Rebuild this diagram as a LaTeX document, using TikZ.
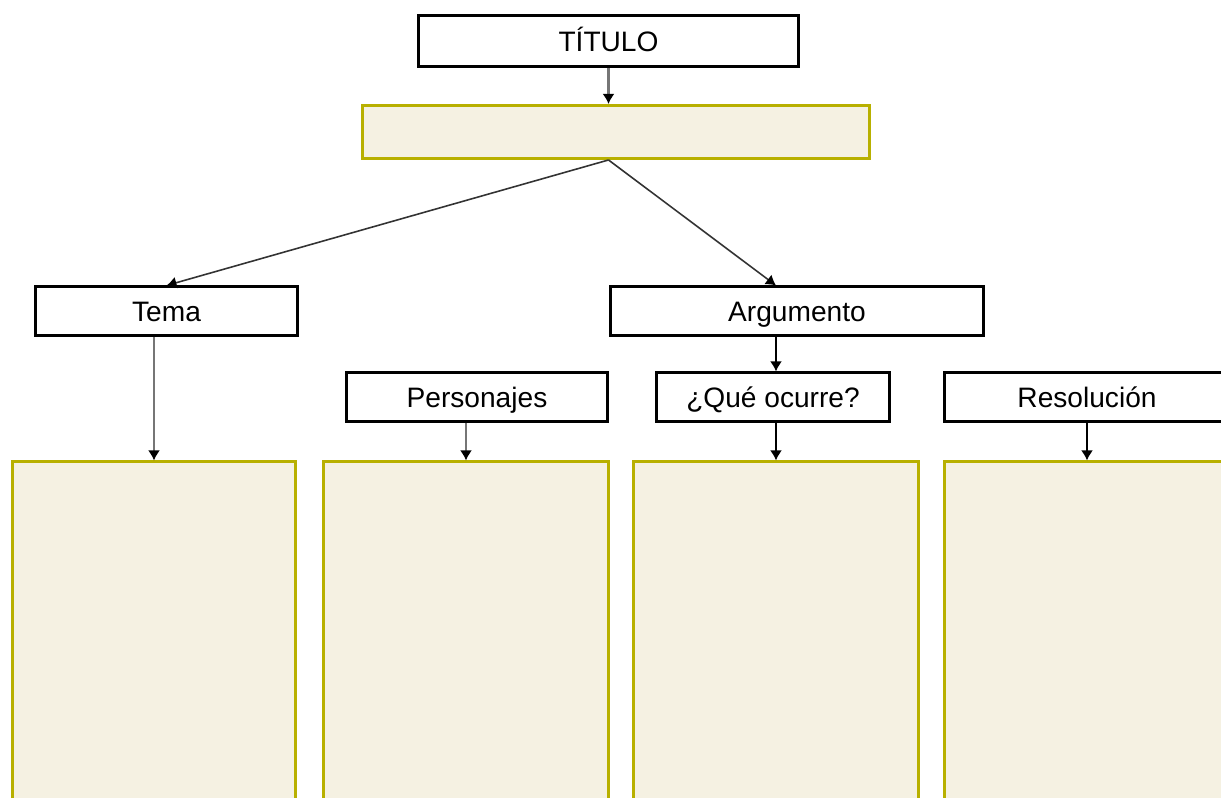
\documentclass[tikz,border=0pt]{standalone}
\usepackage{fontspec}
\setmainfont{Liberation Sans}
\usepackage{tikz}
\usetikzlibrary{arrows.meta}
\definecolor{paper}{RGB}{245,241,226}
\definecolor{rim}{RGB}{184,176,0}
\definecolor{wire}{RGB}{118,118,118}

\begin{document}
\begin{tikzpicture}[
    box/.style={draw=black, line width=0.85pt, fill=white, inner sep=0pt,
        minimum height=0.49cm, text height=1.55ex, text depth=0.45ex,
        font=\fontsize{8}{9.6}\selectfont},
    card/.style={draw=rim, line width=0.85pt, fill=paper, inner sep=0pt},
    link/.style={line width=0.6pt, -{Latex[length=1mm, width=1.2mm, color=black]}}]

    \useasboundingbox (0, 0) rectangle (12.21, -7.98);
    \clip (0, 0) rectangle (12.21, -7.98);

      \node[box, minimum width=3.8cm, minimum height=0.51cm] (titulo) at (6.085, -0.41) {TÍTULO};
      \node[card, minimum width=5.07cm, minimum height=0.53cm] (blank) at (6.16, -1.32) {};

      \node[box, minimum width=2.62cm] (tema) at (1.665, -3.115) {Tema};
      \node[box, minimum width=3.73cm] (argumento) at (7.97, -3.115) {Argumento};

      \node[box, minimum width=2.61cm] (personajes) at (4.77, -3.975) {Personajes};
      \node[box, minimum width=2.33cm] (que) at (7.73, -3.975) {¿Qué ocurre?};
      \node[box, minimum width=2.85cm] (resolucion) at (10.87, -3.975) {Resolución};

      \node[card, minimum width=2.83cm, minimum height=3.48cm] (hoja1) at (1.54, -6.36) {};
      \node[card, minimum width=2.85cm, minimum height=3.48cm] (hoja2) at (4.66, -6.36) {};
      \node[card, minimum width=2.85cm, minimum height=3.48cm] (hoja3) at (7.76, -6.36) {};
      \node[card, minimum width=2.85cm, minimum height=3.48cm] (hoja4) at (10.87, -6.36) {};

      % connectors
      \draw[link, wire] (titulo.south) -- (blank.north -| titulo.south);
      \draw[link, line width=0.45pt, black!80] (blank.south -| titulo.south) -- (tema.north);
      \draw[link, line width=0.45pt, black!80] (blank.south -| titulo.south) -- (argumento.north -| hoja3.north);
      \draw[link] (argumento.south -| hoja3.north) -- (que.north -| hoja3.north);

      \draw[link, wire] (tema.south -| hoja1.north) -- (hoja1.north);
      \draw[link, wire] (personajes.south -| hoja2.north) -- (hoja2.north);
      \draw[link] (que.south -| hoja3.north) -- (hoja3.north);
      \draw[link] (resolucion.south) -- (hoja4.north);

\end{tikzpicture}
\end{document}
